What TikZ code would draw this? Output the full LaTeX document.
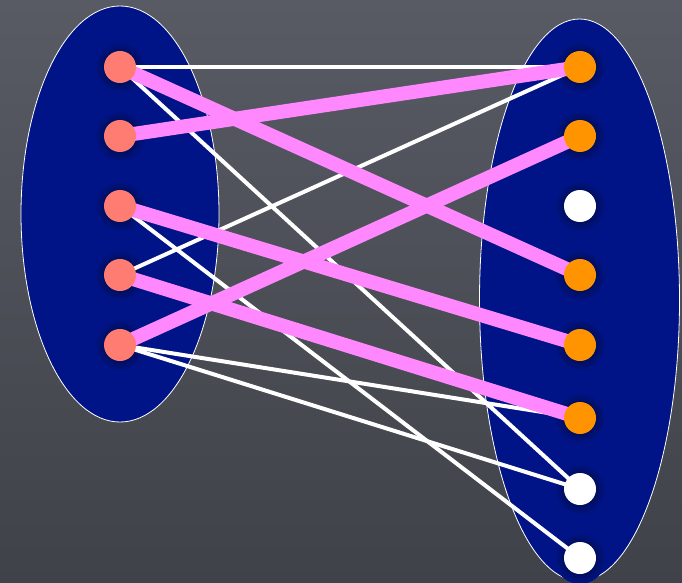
\documentclass[tikz,border=0pt]{standalone}
\definecolor{bgtop}{RGB}{88,91,100}
\definecolor{bgbot}{RGB}{64,66,73}
\definecolor{navy}{RGB}{0,20,135}
\definecolor{salmon}{RGB}{255,124,114}
\definecolor{orng}{RGB}{255,148,0}
\definecolor{pinkedge}{RGB}{255,136,255}
\pgfdeclarelayer{back}
\pgfdeclarelayer{edges}
\pgfsetlayers{back,edges,main}
\tikzset{
  vtx/.style={circle, inner sep=0pt, minimum size=32pt},
  lvtx/.style={vtx, fill=salmon},
  ovtx/.style={vtx, fill=orng},
  wvtx/.style={vtx, fill=white},
  set/.style={fill=navy, draw=white, line width=0.8pt},
  plain/.style={white, line width=4pt},
  match/.style={pinkedge, line width=14pt},
  glow/.style={inner color=black!75!navy, outer color=navy}
}
\begin{document}
\begin{tikzpicture}[x=1pt,y=-1pt]
\useasboundingbox (0,0) rectangle (682,583);
\begin{pgfonlayer}{back}
\shade[top color=bgtop, bottom color=bgbot] (0,0) rectangle (682,583);
\draw[set] (120,214) ellipse [x radius=99, y radius=208];
\draw[set] (579.5,300) ellipse [x radius=100, y radius=281];
\foreach \y in {67,136,206,275,345} {\shade[glow] (120,\y) circle (26);}
\foreach \y in {67,136,206,275,345,418,489,558} {\shade[glow] (580,\y) circle (26);}
\end{pgfonlayer}
\node[lvtx] (L1) at (120,67) {};
\node[lvtx] (L2) at (120,136) {};
\node[lvtx] (L3) at (120,206) {};
\node[lvtx] (L4) at (120,275) {};
\node[lvtx] (L5) at (120,345) {};
\node[ovtx] (R1) at (580,67) {};
\node[ovtx] (R2) at (580,136) {};
\node[wvtx] (R3) at (580,206) {};
\node[ovtx] (R4) at (580,275) {};
\node[ovtx] (R5) at (580,345) {};
\node[ovtx] (R6) at (580,418) {};
\node[wvtx] (R7) at (580,489) {};
\node[wvtx] (R8) at (580,558) {};
\begin{pgfonlayer}{edges}
\draw[plain, line width=3.5pt] (L1.center) -- (R1.center);
\draw[plain] (L1.center) -- (R7.center);
\draw[plain] (L3.center) -- (R8.center);
\draw[plain] (L4.center) -- (R1.center);
\draw[plain] (L5.center) -- (R6.center);
\draw[plain] (L5.center) -- (R7.center);
\draw[match] (L1.center) -- (R4.center);
\draw[match] (L2.center) -- (R1.center);
\draw[match] (L3.center) -- (R5.center);
\draw[match] (L4.center) -- (R6.center);
\draw[match] (L5.center) -- (R2.center);
\end{pgfonlayer}
\end{tikzpicture}
\end{document}
